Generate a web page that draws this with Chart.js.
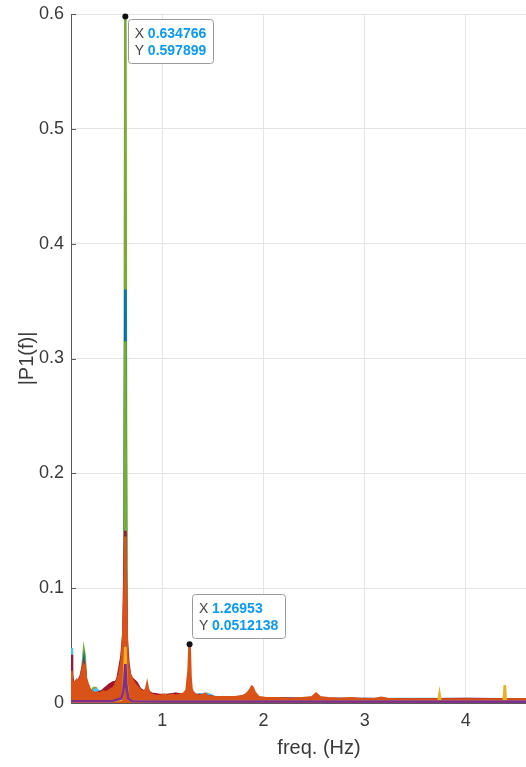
<!DOCTYPE html>
<html>
<head>
<meta charset="utf-8">
<script src="https://cdn.jsdelivr.net/npm/chart.js@4/dist/chart.umd.min.js"></script>
<style>
  html, body { margin: 0; padding: 0; background: #fff; overflow: hidden; width: 526px; height: 767px; }
  #wrap { position: relative; width: 600px; height: 767px; }
</style>
</head>
<body>
<div id="wrap"><canvas id="c" width="600" height="767"></canvas></div>
<script>
// Single-sided amplitude spectra |P1(f)|, one line per channel: [freq (Hz), amplitude]
const specGreenA = [
  [0.098,0.010],[0.156,0.012],[0.195,0.020],[0.215,0.035],[0.225,0.045],[0.234,0.040],[0.244,0.020],
  [0.264,0.010],[0.303,0.010],[0.322,0.013],[0.342,0.013],[0.361,0.010],[0.420,0.008],[0.498,0.010],
  [0.557,0.012],[0.596,0.018],[0.625,0.030],[0.634766,0.597899],[0.645,0.030],[0.664,0.018],
  [0.684,0.024],[0.693,0.023],[0.713,0.012],[0.781,0.008],[0.977,0.005],[1.5,0.004],[2.5,0.003],
  [3.5,0.003],[5.0,0.003]
];
const specBlue = [
  [0.098,0.008],[0.195,0.015],[0.225,0.036],[0.244,0.015],[0.322,0.008],[0.498,0.008],[0.596,0.012],
  [0.625,0.020],[0.635,0.360],[0.645,0.020],[0.703,0.010],[1.0,0.005],[2.0,0.003],[5.0,0.002]
];
const specGreenB = [
  [0.098,0.006],[0.5,0.006],[0.625,0.012],[0.635,0.315],[0.645,0.012],[1.0,0.004],[5.0,0.002]
];
const specLightBlue = [
  [0.098,0.048],[0.107,0.022],[0.137,0.012],[0.195,0.015],[0.225,0.030],[0.244,0.015],[0.303,0.010],
  [0.342,0.012],[0.400,0.009],[0.498,0.010],[0.596,0.015],[0.635,0.080],[0.664,0.015],[0.723,0.010],
  [0.977,0.006],[1.133,0.008],[1.211,0.006],[1.445,0.008],[1.523,0.005],[2.0,0.004],[3.0,0.0035],
  [4.0,0.0035],[5.0,0.003]
];
const specDarkRed = [
  [0.098,0.042],[0.107,0.025],[0.117,0.018],[0.137,0.016],[0.156,0.018],[0.176,0.020],[0.195,0.024],
  [0.215,0.031],[0.225,0.034],[0.234,0.030],[0.244,0.020],[0.264,0.012],[0.283,0.009],[0.322,0.008],
  [0.361,0.009],[0.400,0.010],[0.439,0.013],[0.479,0.016],[0.498,0.017],[0.518,0.018],[0.537,0.018],
  [0.557,0.021],[0.576,0.030],[0.596,0.040],[0.615,0.060],[0.625,0.110],[0.635,0.150],[0.645,0.060],
  [0.664,0.035],[0.684,0.022],[0.703,0.021],[0.742,0.018],[0.781,0.012],[0.820,0.010],[0.859,0.010],
  [0.898,0.008],[0.977,0.007],[1.055,0.007],[1.133,0.008],[1.211,0.007],[1.289,0.007],[1.367,0.007],
  [1.445,0.006],[1.523,0.005],[1.641,0.005],[1.758,0.005],[1.875,0.006],[1.992,0.004],[2.5,0.0035],
  [3.0,0.0035],[3.5,0.003],[4.0,0.0035],[4.5,0.003],[5.0,0.003]
];
const specOrange = [
  [0.098,0.028],[0.107,0.020],[0.117,0.016],[0.137,0.018],[0.156,0.020],[0.176,0.019],[0.195,0.022],
  [0.215,0.030],[0.225,0.033],[0.234,0.032],[0.244,0.022],[0.264,0.016],[0.283,0.012],[0.303,0.010],
  [0.322,0.009],[0.342,0.008],[0.361,0.009],[0.381,0.008],[0.400,0.009],[0.420,0.010],[0.439,0.009],
  [0.459,0.010],[0.479,0.011],[0.498,0.012],[0.518,0.013],[0.537,0.016],[0.557,0.020],[0.576,0.025],
  [0.596,0.035],[0.605,0.045],[0.615,0.060],[0.625,0.090],[0.635,0.145],[0.645,0.070],[0.654,0.040],
  [0.664,0.030],[0.684,0.024],[0.703,0.020],[0.723,0.017],[0.742,0.015],[0.762,0.013],[0.781,0.011],
  [0.801,0.010],[0.820,0.010],[0.840,0.012],[0.850,0.016],[0.859,0.012],[0.879,0.008],[0.898,0.007],
  [0.938,0.006],[0.977,0.006],[1.016,0.007],[1.055,0.006],[1.094,0.007],[1.133,0.006],[1.172,0.007],
  [1.211,0.008],[1.240,0.011],[1.250,0.020],[1.260,0.028],[1.26953,0.0512138],[1.279,0.022],
  [1.289,0.012],[1.299,0.010],[1.328,0.007],[1.367,0.006],[1.406,0.007],[1.426,0.008],[1.445,0.006],
  [1.484,0.005],[1.563,0.005],[1.641,0.005],[1.719,0.005],[1.797,0.006],[1.836,0.008],[1.865,0.011],
  [1.885,0.014],[1.895,0.013],[1.914,0.009],[1.953,0.005],[2.031,0.004],[2.148,0.004],[2.266,0.0035],
  [2.383,0.004],[2.480,0.005],[2.520,0.008],[2.559,0.005],[2.637,0.004],[2.754,0.0035],[2.871,0.004],
  [2.988,0.003],[3.105,0.0035],[3.164,0.0045],[3.223,0.0035],[3.340,0.003],[3.516,0.003],[3.691,0.003],
  [3.867,0.003],[4.043,0.003],[4.219,0.003],[4.395,0.003],[4.570,0.003],[4.746,0.003],[5.0,0.003]
];
const specYellow = [
  [0.098,0.0015],[0.5,0.0015],[0.596,0.003],[0.615,0.010],[0.625,0.030],[0.635,0.049],[0.645,0.020],
  [0.664,0.004],[0.703,0.0015],[2.0,0.0015],[3.730,0.0015],[3.740,0.0075],[3.750,0.0015],
  [4.375,0.0015],[4.385,0.0155],[4.395,0.0015],[5.0,0.0015]
];
const specPurple = [
  [0.098,0.0015],[0.5,0.0015],[0.596,0.004],[0.615,0.010],[0.625,0.020],[0.635,0.034],[0.645,0.015],
  [0.664,0.004],[0.703,0.0015],[1.0,0.0013],[5.0,0.0012]
];

// drawn bottom to top; the broadband channels are shaded down to zero
const seriesData   = [specGreenA, specBlue, specGreenB, specLightBlue, specDarkRed, specOrange, specYellow, specPurple];
const seriesColors = ['#77AC30', '#0072BD', '#77AC30', '#4DBEEE', '#A2142F', '#D95319', '#EDB120', '#7E2F8E'];
const seriesFilled = [true, true, true, true, true, true, false, false];

const xTickValues = [1, 2, 3, 4, 5];
const yTickLabels = ['0', '0.1', '0.2', '0.3', '0.4', '0.5', '0.6'];

// data tips on the two marked peaks
const dataTips = [
  { x: 0.634766, y: 0.597899, xText: '0.634766', yText: '0.597899', place: 'below' },
  { x: 1.26953,  y: 0.0512138, xText: '1.26953', yText: '0.0512138', place: 'above' }
];

const FONT = "'Liberation Sans', Arial, Helvetica, sans-serif";
const TEXT = '#3a3a3a';
const AXIS = '#5a5a5a';

const datasets = seriesData.map((s, i) => ({
  data: s.map(p => ({ x: p[0], y: p[1] })),
  borderColor: seriesColors[i],
  backgroundColor: seriesColors[i],
  borderWidth: 2.6,
  pointRadius: 0,
  tension: 0,
  fill: seriesFilled[i] ? 'origin' : false,
  order: seriesData.length - i
}));

const axesPlugin = {
  id: 'axesLines',
  beforeDatasetsDraw(chart) {
    const { ctx, chartArea: a, scales: { x, y } } = chart;
    ctx.save();
    ctx.strokeStyle = AXIS;
    ctx.lineWidth = 1;
    ctx.beginPath();
    ctx.moveTo(a.left + 0.5, a.top);
    ctx.lineTo(a.left + 0.5, a.bottom + 0.5);
    ctx.lineTo(a.right, a.bottom + 0.5);
    y.ticks.forEach(t => {
      const py = Math.round(y.getPixelForValue(t.value)) + 0.5;
      ctx.moveTo(a.left, py); ctx.lineTo(a.left + 5, py);
    });
    x.ticks.forEach(t => {
      const px = Math.round(x.getPixelForValue(t.value)) + 0.5;
      ctx.moveTo(px, a.bottom); ctx.lineTo(px, a.bottom - 5);
    });
    ctx.stroke();
    ctx.restore();
  }
};

const tipPlugin = {
  id: 'dataTips',
  afterDraw(chart) {
    const { ctx, scales: { x, y } } = chart;
    ctx.save();
    dataTips.forEach(t => {
      const px = x.getPixelForValue(t.x), py = y.getPixelForValue(t.y);
      ctx.font = 'bold 14px ' + FONT;
      const vw = Math.max(ctx.measureText(t.xText).width, ctx.measureText(t.yText).width);
      const w = 20 + vw + 7, h = 44;
      const left = px + 2.5;
      const top = t.place === 'below' ? py + 3 : py - 6 - h;
      ctx.beginPath();
      ctx.roundRect(Math.round(left) + 0.5, Math.round(top) + 0.5, Math.round(w), h, 3);
      ctx.fillStyle = 'rgba(255,255,255,0.92)';
      ctx.fill();
      ctx.strokeStyle = '#9a9a9a';
      ctx.lineWidth = 1;
      ctx.stroke();
      ctx.textBaseline = 'middle';
      ctx.textAlign = 'left';
      ctx.font = '14px ' + FONT;
      ctx.fillStyle = '#444';
      ctx.fillText('X', left + 7, top + 15);
      ctx.fillText('Y', left + 7, top + 32);
      ctx.font = 'bold 14px ' + FONT;
      ctx.fillStyle = '#0b9af2';
      ctx.fillText(t.xText, left + 20, top + 15);
      ctx.fillText(t.yText, left + 20, top + 32);
      ctx.beginPath();
      ctx.arc(px, py, 3, 0, Math.PI * 2);
      ctx.fillStyle = '#111';
      ctx.fill();
    });
    ctx.restore();
  }
};

new Chart(document.getElementById('c'), {
  type: 'line',
  data: { datasets },
  options: {
    responsive: false,
    animation: false,
    devicePixelRatio: 1,
    layout: { padding: { top: 14, right: 33, bottom: 0, left: 0 } },
    plugins: { legend: { display: false }, tooltip: { enabled: false } },
    scales: {
      x: {
        type: 'linear',
        min: 0.09765625,
        max: 5,
        afterBuildTicks: s => { s.ticks = xTickValues.map(v => ({ value: v })); },
        afterFit: s => { s.height = 64; },
        grid: { color: '#e4e4e4', drawTicks: false, tickLength: 0 },
        border: { display: false },
        ticks: { color: TEXT, font: { family: FONT, size: 18 }, padding: 7, maxRotation: 0,
                 callback: v => String(v) },
        title: { display: true, text: 'freq. (Hz)', color: TEXT, font: { family: FONT, size: 20 },
                 padding: { top: 0, bottom: 7 } }
      },
      y: {
        type: 'linear',
        min: 0,
        max: 0.6,
        afterBuildTicks: s => { s.ticks = yTickLabels.map(l => ({ value: parseFloat(l) })); },
        afterFit: s => { s.width = 71; s.paddingTop = 0; s.paddingBottom = 0; },
        grid: { color: '#e4e4e4', drawTicks: false, tickLength: 0 },
        border: { display: false },
        ticks: { color: TEXT, font: { family: FONT, size: 18 }, padding: 7,
                 callback: (v, i) => yTickLabels[i] },
        title: { display: true, text: '|P1(f)|', color: TEXT, font: { family: FONT, size: 20 },
                 padding: { top: 15, bottom: 0 } }
      }
    }
  },
  plugins: [axesPlugin, tipPlugin]
});
</script>
</body>
</html>
